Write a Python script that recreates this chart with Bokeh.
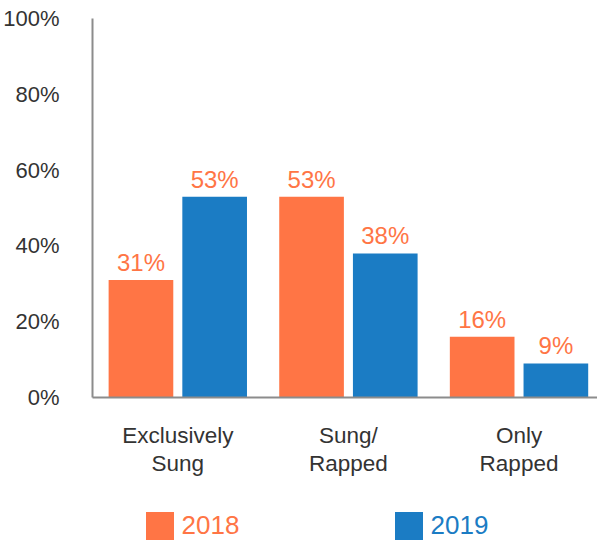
from bokeh.plotting import figure
from bokeh.layouts import column
from bokeh.models import Range1d, FixedTicker, ColumnDataSource, Legend, LegendItem
from bokeh.transform import dodge
from bokeh.core.properties import value
from bokeh.embed import file_html
from bokeh.resources import INLINE

categories = ["Exclusively\nSung", "Sung/\nRapped", "Only\nRapped"]
series_names = ["2018", "2019"]
values_2018 = [31, 53, 16]
values_2019 = [53, 38, 9]
y_ticks = [0, 20, 40, 60, 80, 100]

ORANGE = "#FF7545"
BLUE = "#1B7CC4"
FONT = "Liberation Sans"

xpos = [i + 0.5 for i in range(len(categories))]
src = ColumnDataSource(dict(
    x=xpos,
    v18=values_2018,
    v19=values_2019,
    l18=[f"{v}%" for v in values_2018],
    l19=[f"{v}%" for v in values_2019],
))

p = figure(width=597, height=490, output_backend="svg", toolbar_location=None,
           x_range=Range1d(0, 2.96), y_range=Range1d(0, 100),
           min_border_left=82, min_border_top=18, min_border_bottom=93, min_border_right=0)
p.outline_line_color = None
p.grid.grid_line_color = None

r18 = p.vbar(x=dodge("x", -0.216, range=p.x_range), top="v18", width=0.379, source=src,
             fill_color=ORANGE, line_color=None)
r19 = p.vbar(x=dodge("x", 0.216, range=p.x_range), top="v19", width=0.379, source=src,
             fill_color=BLUE, line_color=None)

for col, lab, off in (("v18", "l18", -0.216), ("v19", "l19", 0.216)):
    p.text(x=dodge("x", off, range=p.x_range), y=col, text=lab, source=src,
           text_align="center", text_baseline="bottom", y_offset=-4,
           text_color=ORANGE, text_font=value(FONT), text_font_size="24px")

p.yaxis.ticker = FixedTicker(ticks=y_ticks)
p.yaxis.major_label_overrides = {t: f"{t}%" for t in y_ticks}
p.xaxis.ticker = FixedTicker(ticks=xpos)
p.xaxis.major_label_overrides = {x: c for x, c in zip(xpos, categories)}

for ax in (p.xaxis, p.yaxis):
    ax.axis_line_color = "#8C8C8C"
    ax.axis_line_width = 2
    ax.major_tick_line_color = None
    ax.minor_tick_line_color = None
    ax.major_label_text_font = FONT
    ax.major_label_text_color = "#333333"
p.yaxis.major_label_text_font_size = "22px"
p.xaxis.major_label_text_font_size = "22.5px"
p.xaxis.major_label_text_line_height = 1.15
p.yaxis.major_label_standoff = 27
p.xaxis.major_label_standoff = 19

# legend strip below the chart (frame aligned with the chart's frame)
p2 = figure(width=597, height=53, output_backend="svg", toolbar_location=None,
            x_range=Range1d(0, 1), y_range=Range1d(0, 1), x_axis_type=None, y_axis_type=None,
            min_border_left=82, min_border_right=0, min_border_top=0, min_border_bottom=0)
p2.outline_line_color = None
p2.grid.grid_line_color = None
# off-screen placeholder marks, used only to supply legend swatches
dummy = ColumnDataSource(dict(x=[-10], top=[0]))
d18 = p2.vbar(x="x", top="top", width=0.1, source=dummy, fill_color=ORANGE, line_color=None)
d19 = p2.vbar(x="x", top="top", width=0.1, source=dummy, fill_color=BLUE, line_color=None)

for name, rend, color, xloc in ((series_names[0], d18, ORANGE, 49.5), (series_names[1], d19, BLUE, 298.5)):
    leg = Legend(items=[LegendItem(label=name, renderers=[rend])],
                 location=(xloc, 0), label_text_color=color, label_text_font=FONT,
                 label_text_font_size="26px", glyph_width=35, glyph_height=35,
                 label_height=28, border_line_color=None, background_fill_alpha=0,
                 label_standoff=5, padding=0, margin=0, spacing=0)
    p2.add_layout(leg, "center")

layout = column(p, p2, spacing=0)
open("out.html", "w").write(file_html(layout, INLINE))
